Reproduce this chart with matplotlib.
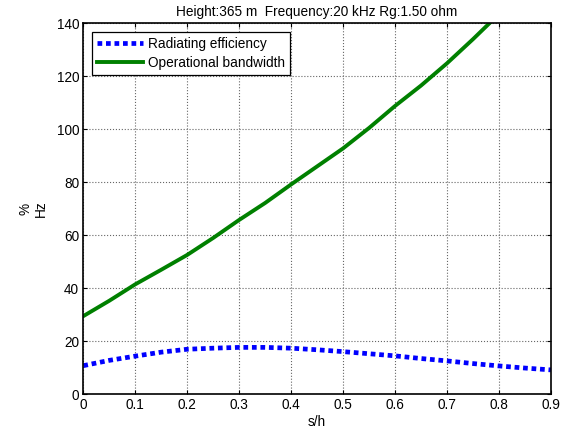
import matplotlib
matplotlib.use("Agg")
import matplotlib.pyplot as plt
import numpy as np

plt.rcParams["font.family"] = ["Liberation Sans", "DejaVu Sans"]

# s/h sampling
s_h = [0.0, 0.05, 0.1, 0.15, 0.2, 0.25, 0.3, 0.35, 0.4, 0.45,
       0.5, 0.55, 0.6, 0.65, 0.7, 0.75, 0.8, 0.85, 0.9]
# radiating efficiency (%)
efficiency = [10.8, 12.8, 14.4, 15.9, 17.0, 17.4, 17.7, 17.7, 17.4, 16.8,
              16.1, 15.3, 14.5, 13.5, 12.6, 11.6, 10.7, 9.9, 9.2]
# operational bandwidth (Hz)
bandwidth = [29.5, 35.3, 41.5, 47.0, 52.6, 59.0, 65.8, 72.2, 79.2, 86.0,
             92.8, 100.5, 108.8, 116.5, 124.9, 134.0, 143.5, 153.0, 162.5]

x_ticks = [0, 0.1, 0.2, 0.3, 0.4, 0.5, 0.6, 0.7, 0.8, 0.9]
x_labels = ["0", "0.1", "0.2", "0.3", "0.4", "0.5", "0.6", "0.7", "0.8", "0.9"]
y_ticks = [0, 20, 40, 60, 80, 100, 120, 140]

FS = 9.8

fig = plt.figure(figsize=(5.61, 4.33), dpi=100)
ax = fig.add_axes([0.1485, 0.0894, 0.8335, 0.8568])

ax.plot(s_h, efficiency, color="#0000ff", linestyle=(0, (1.0, 0.8)),
        dash_capstyle="butt", linewidth=3.4, label="Radiating efficiency")
ax.plot(s_h, bandwidth, color="#008000", linewidth=2.8,
        label="Operational bandwidth")

ax.set_xlim(0, 0.9)
ax.set_ylim(0, 140)
ax.set_xticks(x_ticks)
ax.set_xticklabels(x_labels)
ax.set_yticks(y_ticks)
ax.tick_params(direction="in", top=True, right=True, labelsize=FS,
               length=3, width=0.8, pad=3)
ax.grid(True, color="#666666", linestyle=":", linewidth=0.8)
for sp in ax.spines.values():
    sp.set_linewidth(1.2)

ax.set_title("Height:365 m  Frequency:20 kHz Rg:1.50 ohm", fontsize=FS, pad=5)
ax.set_xlabel("s/h", fontsize=FS, labelpad=2)
ax.set_ylabel("%\nHz", fontsize=FS, labelpad=6, linespacing=1.15)

leg = ax.legend(loc="upper left", fontsize=FS, fancybox=False, framealpha=1,
                edgecolor="black", borderaxespad=0.62, handlelength=3.4,
                handletextpad=0.3, borderpad=0.4, labelspacing=0.33)
leg.get_frame().set_linewidth(0.9)

fig.savefig("out.png", dpi=100)
